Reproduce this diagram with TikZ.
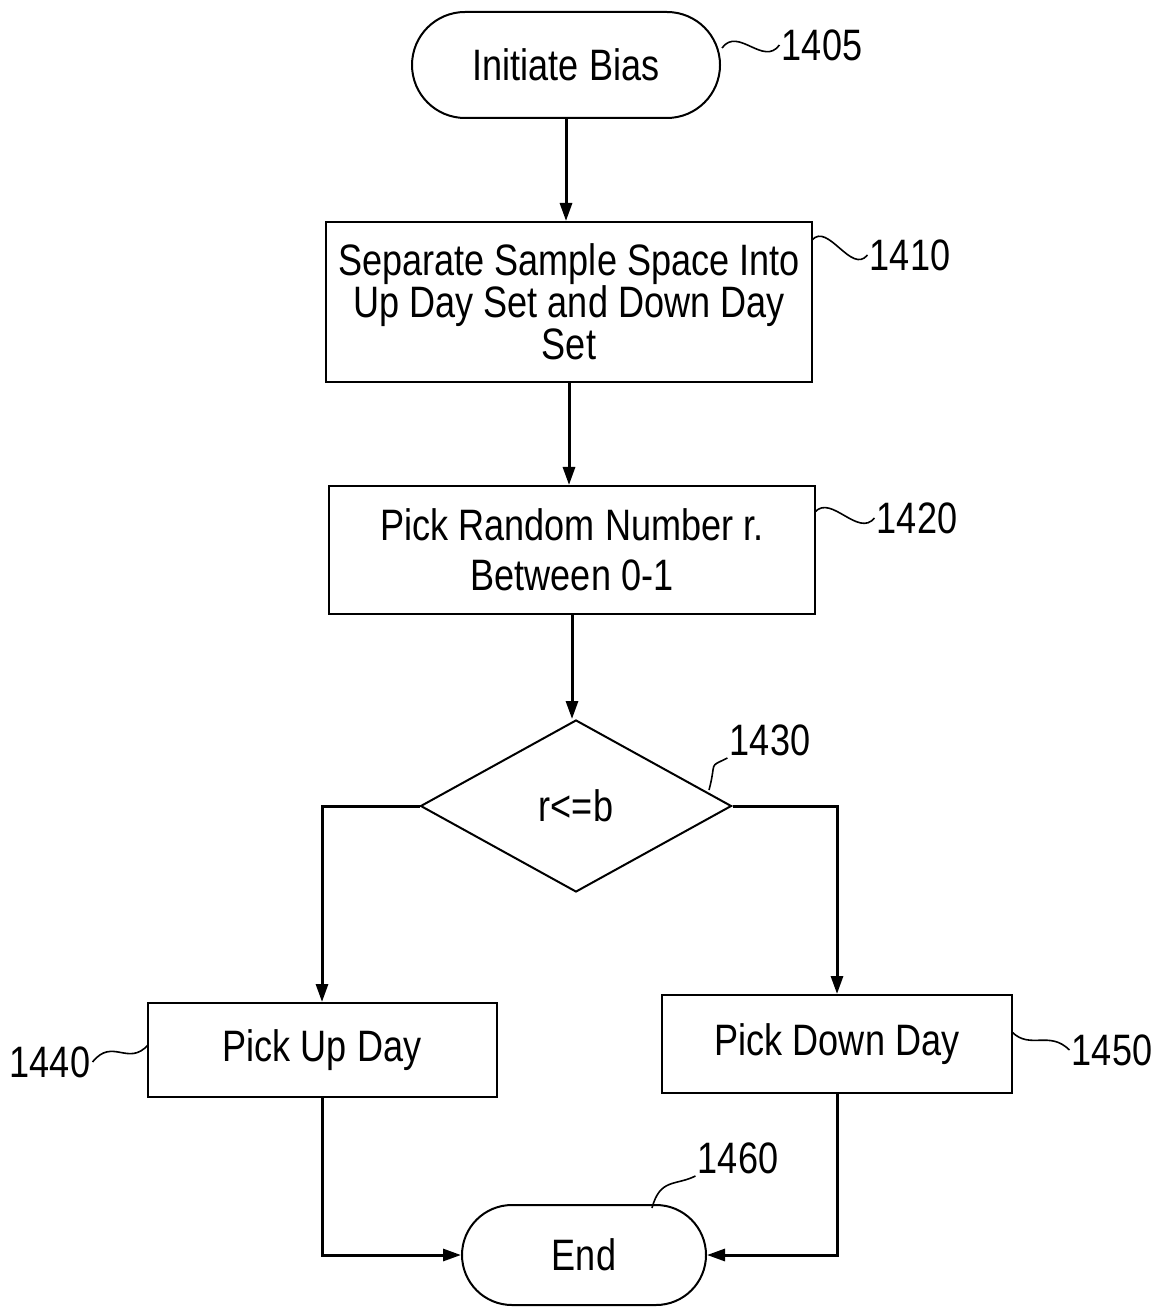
\documentclass[tikz,border=0pt]{standalone}
\usepackage{fontspec}
\setmainfont[FakeStretch=0.82]{Liberation Sans}
\usetikzlibrary{shapes.geometric,shapes.misc,arrows.meta}
\begin{document}
\begin{tikzpicture}[x=0.5pt,y=-0.5pt,
 every node/.style={font=\fontsize{22}{21}\selectfont},
 proc/.style={draw,line width=1pt,rectangle,align=center,inner sep=2pt},
 term/.style={draw,line width=1pt,rounded rectangle,inner sep=2pt},
 dec/.style={draw,line width=1pt,diamond,inner sep=0pt},
 flow/.style={line width=1.5pt,-{Triangle[length=9pt,width=6pt]}},
 squig/.style={line width=0.8pt},
 lab/.style={inner sep=1pt}]
\useasboundingbox (0,0) rectangle (1156,1309);
\node[term, minimum width=158pt, minimum height=53pt] (start) at (566,65) {Initiate Bias};
\node[proc, minimum width=243pt, minimum height=80pt] (b1410) at (569,302) {Separate Sample Space Into\\Up Day Set and Down Day\\Set};
\node[proc, minimum width=243pt, minimum height=64pt, font=\fontsize{22}{25}\selectfont] (b1420) at (572,550) {Pick Random Number r.\\Between 0-1};
\node[dec, minimum width=155.5pt, minimum height=86pt] (d1430) at (576,806) {r<=b};
\node[proc, minimum width=174.5pt, minimum height=47pt] (b1440) at (322,1050) {Pick Up Day};
\node[proc, minimum width=175pt, minimum height=49pt] (b1450) at (837,1044) {Pick Down Day};
\node[term, minimum width=126pt, minimum height=50pt] (end) at (584,1255) {End};

\draw[flow] (start.south) -- (start.south |- b1410.north);
\draw[flow] (b1410.south) -- (b1410.south |- b1420.north);
\draw[flow] (b1420.south) -- (b1420.south |- d1430.north);
\draw[flow] (d1430.west) -| (b1440.north);
\draw[flow] (d1430.east) -| (b1450.north);
\draw[flow] (b1440.south) |- (end.west);
\draw[flow] (b1450.south) |- (end.east);

\node[lab] (l1405) at (822,45) {1405};
\node[lab] (l1410) at (910,255) {1410};
\node[lab] (l1420) at (917,518) {1420};
\node[lab] (l1430) at (770,740) {1430};
\node[lab] (l1440) at (50,1062) {1440};
\node[lab] (l1450) at (1112,1050) {1450};
\node[lab] (l1460) at (738,1158) {1460};

\coordinate (s1405) at (722,48);
\coordinate (s1410) at (812,240);
\coordinate (s1420) at (815,512);
\coordinate (s1430) at (709,790);
\coordinate (s1440) at (148,1045);
\coordinate (s1450) at (1012,1032);
\coordinate (s1460) at (652,1208);

\draw[squig] (s1405) .. controls +(16,-22) and +(-16,22) .. (l1405.west);
\draw[squig] (s1410) .. controls +(16,-18) and +(-16,20) .. (l1410.west);
\draw[squig] (s1420) .. controls +(16,-18) and +(-16,20) .. (l1420.west);
\draw[squig] (s1430) .. controls +(8,-30) and +(-20,10) .. (l1430.south west);
\draw[squig] (l1440.east) .. controls +(20,-25) and +(-20,22) .. (s1440);
\draw[squig] (s1450) .. controls +(18,18) and +(-20,-20) .. (l1450.west);
\draw[squig] (s1460) .. controls +(8,-30) and +(-20,10) .. (l1460.south west);
\end{tikzpicture}
\end{document}
